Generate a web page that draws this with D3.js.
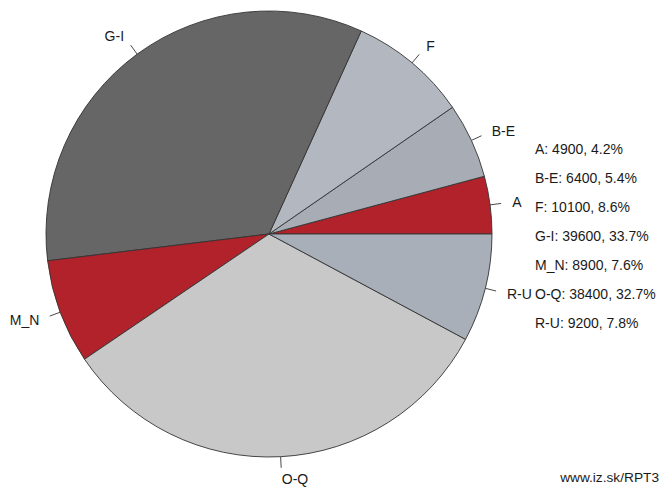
<!DOCTYPE html>
<html>
<head>
<meta charset="utf-8">
<script src="https://cdn.jsdelivr.net/npm/d3@7"></script>
<style>
  html, body { margin: 0; padding: 0; background: #fff; }
  svg { display: block; }
  text { font-family: "Liberation Sans", Arial, Helvetica, sans-serif; fill: #1a1a1a; }
</style>
</head>
<body>
<svg id="chart" width="663" height="488"></svg>
<script>
const categories = ["A", "B-E", "F", "G-I", "M_N", "O-Q", "R-U"];
const values = [4900, 6400, 10100, 39600, 8900, 38400, 9200];
const colors = ["#B2222A", "#A8ADB5", "#B3B8C0", "#666666", "#B2222A", "#C8C8C8", "#A8AFB8"];
const sourceText = "www.iz.sk/RPT3";

const W = 663, H = 488;
const cx = 269, cy = 234, R = 223;
const svg = d3.select("#chart");

const total = d3.sum(values);
const data = categories.map((c, i) => ({ cat: c, value: values[i], color: colors[i] }));

// R-style pie: start at 3 o'clock, counter-clockwise
const pie = d3.pie().value(d => d.value).sort(null)
  .startAngle(Math.PI / 2).endAngle(Math.PI / 2 - 2 * Math.PI);
const arcs = pie(data);
const arc = d3.arc().innerRadius(0).outerRadius(R);

const g = svg.append("g").attr("transform", `translate(${cx},${cy})`);
g.selectAll("path.slice").data(arcs).enter().append("path")
  .attr("class", "slice")
  .attr("d", arc)
  .attr("fill", d => d.data.color)
  .attr("stroke", "#333")
  .attr("stroke-width", 0.9)
  .attr("stroke-linejoin", "round");

// labels with ticks
arcs.forEach(a => {
  const mid = (a.startAngle + a.endAngle) / 2; // d3 angle: 0 at 12 o'clock, clockwise
  const ux = Math.sin(mid), uy = -Math.cos(mid);
  g.append("line")
    .attr("x1", ux * R).attr("y1", uy * R)
    .attr("x2", ux * R * 1.05).attr("y2", uy * R * 1.05)
    .attr("stroke", "#333").attr("stroke-width", 0.9);
  g.append("text")
    .attr("x", ux * R * 1.1).attr("y", uy * R * 1.1)
    .attr("dy", "0.36em")
    .attr("text-anchor", ux < 0 ? "end" : "start")
    .style("font-size", "14px")
    .text(a.data.cat);
});

// legend
const legX = 535, legY0 = 154, legDy = 29, rightLimit = 658;
data.forEach((d, i) => {
  const pct = (d.value / total * 100).toFixed(1);
  const t = svg.append("text")
    .attr("x", legX).attr("y", legY0 + i * legDy)
    .style("font-size", "14px")
    .text(`${d.cat}: ${d.value}, ${pct}%`);
  const w = t.node().getComputedTextLength();
  if (legX + w > rightLimit) t.attr("x", rightLimit - w);
});

svg.append("text")
  .attr("x", 659).attr("y", 482)
  .attr("text-anchor", "end")
  .style("font-size", "13.7px")
  .text(sourceText);
</script>
</body>
</html>
